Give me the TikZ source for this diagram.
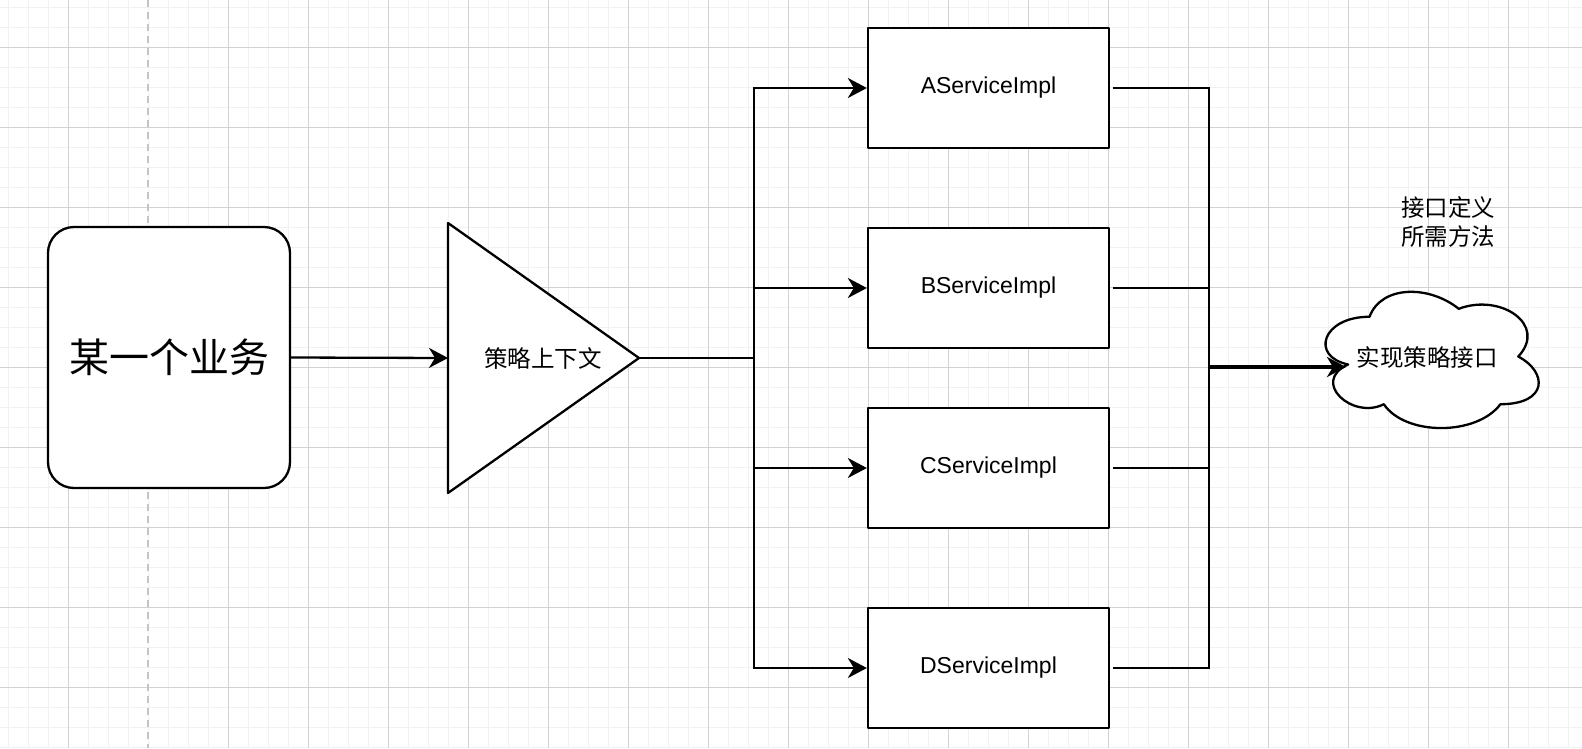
\documentclass[tikz,border=0pt]{standalone}
\usepackage{fontspec}
\setmainfont{Liberation Sans}
\newfontfamily\cjk{Noto Sans CJK SC}
\usetikzlibrary{arrows.meta}
\definecolor{gridminor}{HTML}{F1F1F1}
\definecolor{gridmajor}{HTML}{D2D2D2}
\definecolor{pagebrk}{HTML}{C4C4C4}
\begin{document}
\begin{tikzpicture}[x=1pt,y=-1pt,
  minorgrid/.style={draw=gridminor,line width=1pt},
  majorgrid/.style={draw=gridmajor,line width=1pt},
  shapeline/.style={draw=black,line width=2.3pt,line join=round},
  bizbox/.style={shapeline,fill=white,rounded corners=26pt,minimum width=242pt,minimum height=261pt,inner sep=0pt,font=\cjk\fontsize{40}{48}\selectfont},
  implbox/.style={shapeline,fill=white,minimum width=241pt,minimum height=120pt,inner sep=0pt,font=\fontsize{23}{28}\selectfont},
  cjklabel/.style={inner sep=0pt,font=\cjk\fontsize{23.5}{29}\selectfont},
  wire/.style={draw=black,line width=2.3pt},
  conn/.style={wire,-{Stealth[length=19pt,width=20pt,inset=6pt]}},
  thickconn/.style={draw=black,line width=3.6pt,-{Stealth[length=19pt,width=20pt,inset=6pt]}}
]
\fill[white] (0,0) rectangle (1582,748);
\useasboundingbox (0,0) rectangle (1582,748);
% grid
\foreach \x in {8,28,...,1581} \draw[minorgrid] (\x,0) -- (\x,748);
\foreach \y in {7,27,...,747} \draw[minorgrid] (0,\y) -- (1582,\y);
\foreach \x in {68,228,308,...,1508} \draw[majorgrid] (\x,0) -- (\x,748);
\foreach \y in {47,127,...,727} \draw[majorgrid] (0,\y) -- (1582,\y);
\draw[draw=pagebrk,line width=1.6pt,dash pattern=on 7pt off 5pt] (148,0) -- (148,748);

% business box
\node[bizbox] (biz) at (169,357.5) {某一个业务};

% strategy context triangle
\draw[shapeline,fill=white] (448,223) coordinate (ctxtop) -- (639,358) coordinate (ctxtip) -- (448,493) coordinate (ctxbot) -- cycle;
\node[cjklabel] (ctx) at (543,358) {策略上下文};
\coordinate (ctxin) at (448,358);
\draw[conn] (biz.east) -- (ctxin);

% implementation boxes
\node[implbox] (A) at (988.5,88) {AServiceImpl};
\node[implbox] (B) at (988.5,288) {BServiceImpl};
\node[implbox] (C) at (988.5,468) {CServiceImpl};
\node[implbox] (D) at (988.5,668) {DServiceImpl};

% left bus
\coordinate (jm) at (754,358);
\coordinate (jA) at (754,88);
\coordinate (jB) at (754,288);
\coordinate (jC) at (754,468);
\coordinate (jD) at (754,668);
\draw[wire] (ctxtip) -- (jm);
\draw[wire,line cap=rect] (jA) -- (jD);
\draw[conn] (jA) -- (A.west);
\draw[conn] (jB) -- (B.west);
\draw[conn] (jC) -- (C.west);
\draw[conn] (jD) -- (D.west);

% right bus
\coordinate (rA) at (1209,88);
\coordinate (rB) at (1209,288);
\coordinate (rC) at (1209,468);
\coordinate (rD) at (1209,668);
\coordinate (rm) at (1209,367);
\draw[wire] ([xshift=3pt]A.east) -- (rA);
\draw[wire] ([xshift=3pt]B.east) -- (rB);
\draw[wire] ([xshift=3pt]C.east) -- (rC);
\draw[wire] ([xshift=3pt]D.east) -- (rD);
\draw[wire,line cap=rect] (rA) -- (rD);

% cloud
\draw[shapeline,fill=white] (1369.5,316.75) .. controls (1321.9,316.75) and (1310,356.5) .. (1348.1,364.45)
  .. controls (1310,381.9) and (1352.8,420.1) .. (1383.8,404.2)
  .. controls (1405.2,436) and (1476.6,436) .. (1500.4,404.2)
  .. controls (1548,404.2) and (1548,372.4) .. (1518.25,356.5)
  .. controls (1548,324.7) and (1500.4,292.9) .. (1458.75,308.8)
  .. controls (1429,284.95) and (1381.4,284.95) .. (1369.5,316.75) -- cycle;
\node[cjklabel] (cloud) at (1427,358) {实现策略接口};
\coordinate (cloudin) at (1346,367);
\draw[thickconn] (rm) -- (cloudin);

% note
\node[cjklabel,align=center] (note) at (1448,222.5) {接口定义\\所需方法};
\end{tikzpicture}
\end{document}
